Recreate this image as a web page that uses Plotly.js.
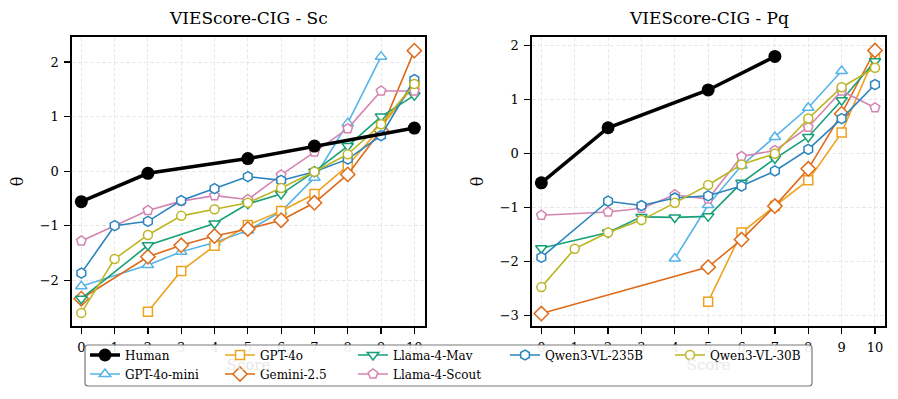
<!DOCTYPE html>
<html>
<head>
<meta charset="utf-8">
<script src="https://cdn.plot.ly/plotly-3.0.1.min.js"></script>
<style>
  html, body { margin: 0; padding: 0; background: #fff; }
  #chart { width: 898px; height: 399px; }
</style>
</head>
<body>
<div id="chart"></div>
<script>
// Model names, in the order used by the legend columns
var models = ["Human", "GPT-4o-mini", "GPT-4o", "Gemini-2.5", "Llama-4-Mav", "Llama-4-Scout", "Qwen3-VL-235B", "Qwen3-VL-30B"];

// VIEScore-CIG - Sc (left panel)
var scX_human = [0, 2, 5, 7, 10];
var scY_human = [-0.56, -0.04, 0.23, 0.46, 0.79];
var scX_gpt4omini = [0, 2, 3, 4, 5, 6, 7, 8, 9];
var scY_gpt4omini = [-2.11, -1.72, -1.48, -1.31, -1.09, -0.74, -0.12, 0.88, 2.10];
var scX_gpt4o = [2, 3, 4, 5, 6, 7, 8, 9, 10];
var scY_gpt4o = [-2.58, -1.83, -1.37, -0.99, -0.73, -0.42, 0.10, 0.81, 1.58];
var scX_gemini = [0, 2, 3, 4, 5, 6, 7, 8, 9, 10];
var scY_gemini = [-2.34, -1.57, -1.36, -1.19, -1.06, -0.90, -0.58, -0.06, 0.75, 2.21];
var scX_mav = [0, 2, 4, 5, 6, 7, 8, 9, 10];
var scY_mav = [-2.34, -1.36, -0.96, -0.60, -0.42, -0.01, 0.46, 1.00, 1.39];
var scX_scout = [0, 2, 3, 4, 5, 6, 7, 8, 9, 10];
var scY_scout = [-1.28, -0.72, -0.55, -0.45, -0.52, -0.07, 0.35, 0.78, 1.47, 1.47];
var scX_q235 = [0, 1, 2, 3, 4, 5, 6, 7, 8, 9, 10];
var scY_q235 = [-1.87, -1.00, -0.92, -0.54, -0.32, -0.10, -0.17, -0.01, 0.22, 0.65, 1.68];
var scX_q30 = [0, 1, 2, 3, 4, 5, 6, 7, 8, 9, 10];
var scY_q30 = [-2.60, -1.61, -1.17, -0.82, -0.70, -0.58, -0.31, -0.01, 0.31, 0.86, 1.60];

// VIEScore-CIG - Pq (right panel)
var pqX_human = [0, 2, 5, 7];
var pqY_human = [-0.54, 0.48, 1.18, 1.80];
var pqX_gpt4omini = [4, 5, 6, 7, 8, 9];
var pqY_gpt4omini = [-1.94, -0.95, -0.22, 0.31, 0.85, 1.53];
var pqX_gpt4o = [5, 6, 7, 8, 9, 10];
var pqY_gpt4o = [-2.74, -1.46, -0.97, -0.49, 0.39, 1.82];
var pqX_gemini = [0, 5, 6, 7, 8, 9, 10];
var pqY_gemini = [-2.96, -2.10, -1.59, -0.97, -0.28, 0.74, 1.91];
var pqX_mav = [0, 2, 3, 4, 5, 6, 7, 8, 9, 10];
var pqY_mav = [-1.75, -1.46, -1.17, -1.18, -1.16, -0.54, -0.09, 0.31, 0.99, 1.71];
var pqX_scout = [0, 2, 3, 4, 5, 6, 7, 8, 9, 10];
var pqY_scout = [-1.14, -1.08, -1.01, -0.76, -0.84, -0.05, 0.06, 0.49, 1.16, 0.85];
var pqX_q235 = [0, 2, 3, 4, 5, 6, 7, 8, 9, 10];
var pqY_q235 = [-1.92, -0.88, -0.96, -0.82, -0.78, -0.60, -0.32, 0.08, 0.65, 1.28];
var pqX_q30 = [0, 1, 2, 3, 4, 5, 6, 7, 8, 9, 10];
var pqY_q30 = [-2.47, -1.76, -1.46, -1.23, -0.91, -0.58, -0.20, 0.00, 0.65, 1.23, 1.59];

var xTicks = [0, 1, 2, 3, 4, 5, 6, 7, 8, 9, 10];

var scData = {
  "Human": [scX_human, scY_human],
  "GPT-4o-mini": [scX_gpt4omini, scY_gpt4omini],
  "GPT-4o": [scX_gpt4o, scY_gpt4o],
  "Gemini-2.5": [scX_gemini, scY_gemini],
  "Llama-4-Mav": [scX_mav, scY_mav],
  "Llama-4-Scout": [scX_scout, scY_scout],
  "Qwen3-VL-235B": [scX_q235, scY_q235],
  "Qwen3-VL-30B": [scX_q30, scY_q30]
};
var pqData = {
  "Human": [pqX_human, pqY_human],
  "GPT-4o-mini": [pqX_gpt4omini, pqY_gpt4omini],
  "GPT-4o": [pqX_gpt4o, pqY_gpt4o],
  "Gemini-2.5": [pqX_gemini, pqY_gemini],
  "Llama-4-Mav": [pqX_mav, pqY_mav],
  "Llama-4-Scout": [pqX_scout, pqY_scout],
  "Qwen3-VL-235B": [pqX_q235, pqY_q235],
  "Qwen3-VL-30B": [pqX_q30, pqY_q30]
};

var styles = {
  "Human":         { color: '#000000', symbol: 'circle',        size: 13, legend: 'legend',  rank: 1 },
  "GPT-4o-mini":   { color: '#56B4E9', symbol: 'triangle-up',   size: 10, legend: 'legend',  rank: 2 },
  "GPT-4o":        { color: '#EFA21E', symbol: 'square',        size: 9,  legend: 'legend2', rank: 1 },
  "Gemini-2.5":    { color: '#DE6B1A', symbol: 'diamond',       size: 11, legend: 'legend2', rank: 2 },
  "Llama-4-Mav":   { color: '#17A077', symbol: 'triangle-down', size: 10, legend: 'legend3', rank: 1 },
  "Llama-4-Scout": { color: '#D385B0', symbol: 'pentagon',      size: 10, legend: 'legend3', rank: 2 },
  "Qwen3-VL-235B": { color: '#2A84BE', symbol: 'hexagon',       size: 10, legend: 'legend4', rank: 1 },
  "Qwen3-VL-30B":  { color: '#BDB523', symbol: 'circle',        size: 9,  legend: 'legend5', rank: 1 }
};

var serif = 'DejaVu Serif, serif';
var data = [];

// models first, Human drawn last so it sits on top
var drawOrder = models.slice(1).concat(["Human"]);
drawOrder.forEach(function(name) {
  var s = styles[name];
  var isHuman = name === "Human";
  var marker = isHuman
    ? { symbol: s.symbol, size: s.size, color: s.color, line: { color: s.color, width: 0 } }
    : { symbol: s.symbol, size: s.size, color: '#ffffff', line: { color: s.color, width: 1.5 } };
  var line = { color: s.color, width: isHuman ? 3.5 : 1.6 };

  data.push({
    x: scData[name][0], y: scData[name][1],
    xaxis: 'x', yaxis: 'y',
    type: 'scatter', mode: 'lines+markers',
    name: name, legend: s.legend, legendrank: s.rank,
    marker: marker, line: line,
    showlegend: true
  });
  data.push({
    x: pqData[name][0], y: pqData[name][1],
    xaxis: 'x2', yaxis: 'y2',
    type: 'scatter', mode: 'lines+markers',
    name: name, legend: s.legend,
    marker: marker, line: line,
    showlegend: false
  });
});

function axisStyle(extra) {
  var a = {
    showline: true,
    mirror: true,
    linecolor: '#000000',
    linewidth: 1.6,
    ticks: 'outside',
    ticklen: 6,
    tickwidth: 1.2,
    tickcolor: '#000000',
    tickfont: { family: serif, size: 13, color: '#000000' },
    ticklabelstandoff: 3,
    showgrid: true,
    gridcolor: '#e4e4e4',
    gridwidth: 0.8,
    griddash: '4px,2px',
    zeroline: false
  };
  for (var k in extra) a[k] = extra[k];
  return a;
}

var W = 898, H = 399;
function px(v) { return v / W; }
function py(v) { return 1 - v / H; }

// rounded frame for the shared legend, in paper units
function roundedRect(x0, y0, x1, y1, r) {
  return 'M' + px(x0 + r) + ',' + py(y0) +
    ' L' + px(x1 - r) + ',' + py(y0) +
    ' Q' + px(x1) + ',' + py(y0) + ' ' + px(x1) + ',' + py(y0 + r) +
    ' L' + px(x1) + ',' + py(y1 - r) +
    ' Q' + px(x1) + ',' + py(y1) + ' ' + px(x1 - r) + ',' + py(y1) +
    ' L' + px(x0 + r) + ',' + py(y1) +
    ' Q' + px(x0) + ',' + py(y1) + ' ' + px(x0) + ',' + py(y1 - r) +
    ' L' + px(x0) + ',' + py(y0 + r) +
    ' Q' + px(x0) + ',' + py(y0) + ' ' + px(x0 + r) + ',' + py(y0) + ' Z';
}

var xTitle = { text: 'Score', font: { family: serif, size: 15, color: '#e8e8e8' }, standoff: 5 };
var yTitle = { text: 'θ', font: { family: serif, size: 16, color: '#000000' }, standoff: 12 };

var legendBase = function(x) {
  return {
    orientation: 'v',
    x: px(x), xanchor: 'left',
    y: py(340.5), yanchor: 'top',
    bgcolor: 'rgba(0,0,0,0)',
    borderwidth: 0,
    font: { family: serif, size: 12, color: '#000000' },
    itemclick: false
  };
};

var layout = {
  width: W,
  height: H,
  margin: { l: 0, r: 0, t: 0, b: 0, autoexpand: false },
  paper_bgcolor: '#ffffff',
  plot_bgcolor: '#ffffff',
  xaxis: axisStyle({ domain: [px(72), px(425)], range: [-0.28, 10.32], tickvals: xTicks, anchor: 'y', title: xTitle }),
  yaxis: axisStyle({ domain: [py(326), py(37)], range: [-2.84, 2.46], dtick: 1, anchor: 'x', title: yTitle }),
  xaxis2: axisStyle({ domain: [px(532), px(885)], range: [-0.28, 10.30], tickvals: xTicks, anchor: 'y2', title: xTitle }),
  yaxis2: axisStyle({ domain: [py(326), py(37)], range: [-3.19, 2.16], dtick: 1, anchor: 'x2', title: yTitle }),
  annotations: [
    { text: 'VIEScore-CIG - Sc', xref: 'paper', yref: 'paper', x: px(248.5), y: py(18), xanchor: 'center', yanchor: 'middle', showarrow: false, font: { family: serif, size: 17, color: '#000000' } },
    { text: 'VIEScore-CIG - Pq', xref: 'paper', yref: 'paper', x: px(708.5), y: py(18), xanchor: 'center', yanchor: 'middle', showarrow: false, font: { family: serif, size: 17, color: '#000000' } }
  ],
  // legend frame spanning both panels, drawn over the tick labels
  shapes: [
    { type: 'path', xref: 'paper', yref: 'paper', path: roundedRect(85, 345, 812, 386, 3), layer: 'above',
      fillcolor: 'rgba(255,255,255,0.92)', line: { color: '#7a7a7a', width: 1.2 } }
  ],
  showlegend: true,
  legend: legendBase(85),
  legend2: legendBase(220),
  legend3: legendBase(353),
  legend4: legendBase(505),
  legend5: legendBase(670),
  hovermode: false
};

var config = { displayModeBar: false, staticPlot: true };

Plotly.newPlot('chart', data, layout, config);
</script>
</body>
</html>
